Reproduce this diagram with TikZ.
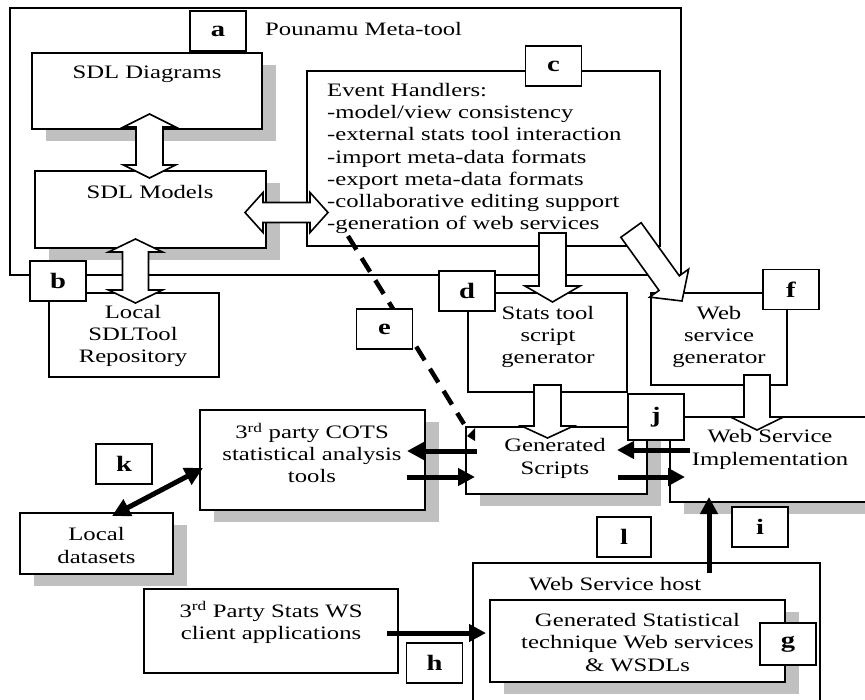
\documentclass[tikz,border=0pt]{standalone}
\usepackage{fontspec}
\setmainfont{Liberation Serif}[FakeStretch=1.3]
\usetikzlibrary{calc,arrows.meta,shadows}
\definecolor{shadowgray}{RGB}{192,192,192}

% block arrow with one head: tail, tip, shaft half width, head half width, head length
\newcommand\blockarrowone[5]{%
  \coordinate (ba-c) at ($(#2)!#5!(#1)$);
  \draw[blockarrow] ($(#1)!#3!90:(#2)$) -- ($(ba-c)!#3!-90:(#1)$) -- ($(ba-c)!#4!-90:(#1)$) -- (#2)
    -- ($(ba-c)!#4!90:(#1)$) -- ($(ba-c)!#3!90:(#1)$) -- ($(#1)!#3!-90:(#2)$) -- cycle;}
% block arrow with two heads: end, end, shaft half width, head half width, head length
\newcommand\blockarrowtwo[5]{%
  \coordinate (ba-a) at ($(#1)!#5!(#2)$);
  \coordinate (ba-b) at ($(#2)!#5!(#1)$);
  \draw[blockarrow] (#1) -- ($(ba-a)!#4!90:(#2)$) -- ($(ba-a)!#3!90:(#2)$) -- ($(ba-b)!#3!-90:(#1)$)
    -- ($(ba-b)!#4!-90:(#1)$) -- (#2) -- ($(ba-b)!#4!90:(#1)$) -- ($(ba-b)!#3!90:(#1)$)
    -- ($(ba-a)!#3!-90:(#2)$) -- ($(ba-a)!#4!-90:(#2)$) -- cycle;}

\tikzset{
  frame/.style={draw, line width=1.6pt, inner sep=0pt},
  box/.style={draw, line width=1.6pt, fill=white, inner sep=0pt},
  shadowed/.style={general shadow={fill=shadowgray, shadow xshift=14pt, shadow yshift=-12pt}},
  tag/.style={draw, line width=1.6pt, fill=white, minimum width=56pt, minimum height=40pt,
    inner sep=0pt, font=\fontsize{22}{24}\selectfont\bfseries},
  txt/.style={align=center, inner sep=0pt, font=\fontsize{19}{22.2}\selectfont},
  blockarrow/.style={draw, line width=1.6pt, fill=white, line join=miter},
  bigarrow/.style={line width=5pt, -{Triangle[length=17pt,width=17pt]}},
  bigdouble/.style={line width=5pt, {Triangle[length=18pt,width=18pt]}-{Triangle[length=18pt,width=18pt]}},
  dashline/.style={line width=4.5pt, dash pattern=on 16pt off 10pt},
}

\begin{document}
\begin{tikzpicture}[x=1pt,y=-1pt]
\useasboundingbox (0,0) rectangle (865,699);
\clip (0,0) rectangle (865,699);

% Pounamu meta-tool frame and the web service host
\node[frame, minimum width=671pt, minimum height=267pt] (pounamu) at (345.5,141.5) {};
\node[txt, anchor=west] (pounamu-t) at (265,29) {Pounamu Meta-tool};
\node[frame, minimum width=347pt, minimum height=157pt] (host) at (646.5,641.5) {};
\node[txt] (host-t) at (615,584) {Web Service host};

% components
\node[box, shadowed, minimum width=230pt, minimum height=76pt] (diag) at (147,91) {};
\node[box, shadowed, minimum width=231pt, minimum height=77pt] (models) at (150.5,209.5) {};
\node[frame, minimum width=353pt, minimum height=175pt] (events) at (483.5,158.5) {};
\node[box, minimum width=170pt, minimum height=84pt] (repo) at (134,335) {};
\node[box, minimum width=159pt, minimum height=99pt] (statgen) at (547.5,342.5) {};
\node[box, minimum width=136pt, minimum height=92pt] (wsgen) at (719,339) {};
\node[box, shadowed, minimum width=181pt, minimum height=67pt] (scripts) at (556.5,460.5) {};
\node[box, shadowed, minimum width=210pt, minimum height=85pt] (wsimpl) at (775,459.5) {};
\node[box, shadowed, minimum width=225pt, minimum height=100pt] (cots) at (312.5,460) {};
\node[box, shadowed, minimum width=153pt, minimum height=61pt] (datasets) at (96.5,543.5) {};
\node[box, minimum width=254pt, minimum height=84pt] (clients) at (271,631) {};
\node[box, shadowed, minimum width=295pt, minimum height=82pt] (wsdl) at (637.5,641) {};

% texts
\node[txt] (diag-t) at (147,74) {SDL Diagrams};
\node[txt] (models-t) at (150,192) {SDL Models};
\node[txt, align=left, anchor=west] (events-t) at (327,158.5) {Event Handlers:\\-model/view consistency\\-external stats tool interaction\\-import meta-data formats\\-export meta-data formats\\-collaborative editing support\\-generation of web services};
\node[txt] (repo-t) at (133,336) {Local\\SDLTool\\Repository};
\node[txt] (statgen-t) at (548,337) {Stats tool\\script\\generator};
\node[txt] (wsgen-t) at (719,337) {Web\\service\\generator};
\node[txt] (scripts-t) at (555,458.5) {Generated\\Scripts};
\node[txt] (wsimpl-t) at (770,449.5) {Web Service\\Implementation};
\node[txt] (cots-t) at (312,453) {3\textsuperscript{rd} party COTS\\statistical analysis\\tools};
\node[txt] (datasets-t) at (96.5,545.5) {Local\\datasets};
\node[txt] (clients-t) at (271,622.5) {3\textsuperscript{rd} Party Stats WS\\client applications};
\node[txt] (wsdl-t) at (637.5,642.5) {Generated Statistical\\technique Web services\\\& WSDLs};

% block arrows
\coordinate (diag-s) at (149.5,114);  \coordinate (models-n) at (149.5,178);
\coordinate (models-s) at (135.5,239); \coordinate (repo-n) at (135.5,303);
\coordinate (models-e) at (245,212.5); \coordinate (events-w) at (328,212.5);
\coordinate (events-s) at (552.5,233); \coordinate (statgen-n) at (552.5,302);
\coordinate (events-se) at (631,230);  \coordinate (wsgen-nw) at (682,301);
\coordinate (statgen-s) at (547.5,385); \coordinate (scripts-n) at (547.5,438);
\coordinate (wsgen-s) at (757,375);    \coordinate (wsimpl-n) at (757,430);
\blockarrowtwo{diag-s}{models-n}{13.5pt}{26pt}{13pt}
\blockarrowtwo{models-s}{repo-n}{13pt}{27pt}{13pt}
\blockarrowtwo{models-e}{events-w}{10pt}{20pt}{18pt}
\blockarrowone{events-s}{statgen-n}{13.5pt}{27.5pt}{16pt}
\blockarrowone{events-se}{wsgen-nw}{12.5pt}{24pt}{22pt}
\blockarrowone{statgen-s}{scripts-n}{13.5pt}{26pt}{12pt}
\blockarrowone{wsgen-s}{wsimpl-n}{13pt}{26.5pt}{13pt}

% data flow arrows
\coordinate (scripts-w1) at (477,451); \coordinate (cots-e1) at (407,451);
\coordinate (cots-e2) at (407,477);    \coordinate (scripts-w2) at (475,477);
\coordinate (wsimpl-w1) at (690,450);  \coordinate (scripts-e1) at (617,450);
\coordinate (scripts-e2) at (618,477); \coordinate (wsimpl-w2) at (685,477);
\coordinate (datasets-n) at (112,516); \coordinate (cots-w) at (203,468);
\coordinate (clients-e) at (387,633);  \coordinate (wsdl-w) at (486,633);
\coordinate (host-n) at (709,573);     \coordinate (wsimpl-s) at (709,497);
\draw[bigarrow] (scripts-w1) -- (cots-e1);
\draw[bigarrow] (cots-e2) -- (scripts-w2);
\draw[bigarrow] (wsimpl-w1) -- (scripts-e1);
\draw[bigarrow] (scripts-e2) -- (wsimpl-w2);
\draw[bigdouble] (datasets-n) -- (cots-w);
\draw[bigarrow] (clients-e) -- (wsdl-w);
\draw[bigarrow] (host-n) -- (wsimpl-s);

% dashed link from the event handlers to the generated scripts
\coordinate (events-gen) at (348,236); \coordinate (scripts-nw) at (464,424);
\draw[dashline] (events-gen) -- (scripts-nw);
\fill (467,436) -- (475,428) -- (475,441) -- cycle;

% labels
\node[tag] (la) at (218,31) {a};
\node[tag] (lb) at (58,281) {b};
\node[tag] (lc) at (553.5,66) {c};
\node[tag] (ld) at (467,291) {d};
\node[tag] (le) at (384.5,329) {e};
\node[tag] (lf) at (791,289.5) {f};
\node[tag, minimum height=42pt] (lg) at (788,644) {g};
\node[tag] (lh) at (434.5,663) {h};
\node[tag] (li) at (760,527) {i};
\node[tag, minimum height=46pt] (lj) at (656,417) {j};
\node[tag] (lk) at (124,464) {k};
\node[tag, minimum width=54pt] (ll) at (624,537) {l};
\end{tikzpicture}
\end{document}
